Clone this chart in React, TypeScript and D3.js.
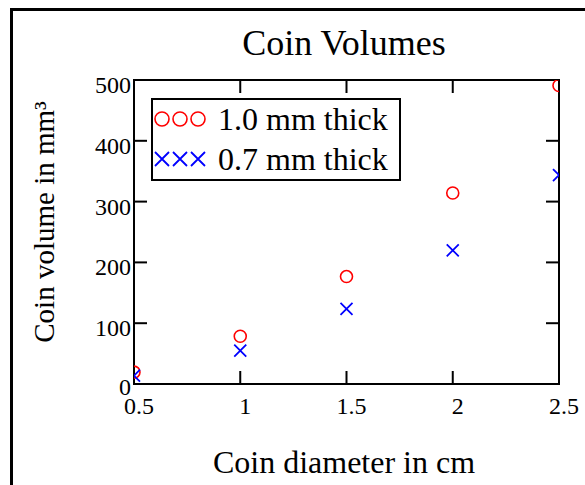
import React, { useEffect, useRef } from "react";
import * as d3 from "d3";

const diameters = [0.5, 1, 1.5, 2, 2.5];
const thick10 = [19.6, 78.5, 176.7, 314.2, 490.9];
const thick07 = [13.7, 55.0, 123.7, 219.9, 343.6];
const xTicks = [0.5, 1, 1.5, 2, 2.5];
const yTicks = [0, 100, 200, 300, 400, 500];
const seriesNames = ["1.0 mm thick", "0.7 mm thick"];

const W = 585;
const H = 485;
const FONT = "Liberation Serif, Times New Roman, serif";

const App = () => {
  const ref = useRef<SVGSVGElement>(null);

  useEffect(() => {
    if (!ref.current) return;
    const svg = d3.select(ref.current);
    svg.selectAll("*").remove();

    const m = { left: 134, right: 559, top: 80, bottom: 384 };
    const x = d3.scaleLinear().domain([0.5, 2.5]).range([m.left, m.right]);
    const y = d3.scaleLinear().domain([0, 500]).range([m.bottom, m.top]);

    // outer frame (runs off the right and bottom of the page)
    svg
      .append("rect")
      .attr("x", 11.5)
      .attr("y", 9.5)
      .attr("width", W + 20)
      .attr("height", H + 20)
      .attr("fill", "white")
      .attr("stroke", "black")
      .attr("stroke-width", 3);

    svg
      .append("defs")
      .append("clipPath")
      .attr("id", "plot-clip")
      .append("rect")
      .attr("x", m.left)
      .attr("y", m.top)
      .attr("width", m.right - m.left)
      .attr("height", m.bottom - m.top);

    // Title
    svg
      .append("text")
      .attr("x", 344)
      .attr("y", 55)
      .attr("text-anchor", "middle")
      .attr("font-size", 36)
      .text("Coin Volumes");

    // Axis titles
    svg
      .append("text")
      .attr("x", 344)
      .attr("y", 473)
      .attr("text-anchor", "middle")
      .attr("font-size", 32)
      .text("Coin diameter in cm");

    svg
      .append("text")
      .attr("transform", "translate(54, 222) rotate(-90)")
      .attr("text-anchor", "middle")
      .attr("font-size", 29)
      .text("Coin volume in mm³");

    // Ticks (inward, all four sides)
    const tl = 13;
    const ticks = svg.append("g").attr("stroke", "black").attr("stroke-width", 2);
    xTicks.forEach((t) => {
      ticks.append("line").attr("x1", x(t)).attr("x2", x(t)).attr("y1", m.bottom).attr("y2", m.bottom - tl);
      ticks.append("line").attr("x1", x(t)).attr("x2", x(t)).attr("y1", m.top).attr("y2", m.top + tl);
    });
    yTicks.forEach((t) => {
      ticks.append("line").attr("x1", m.left).attr("x2", m.left + tl).attr("y1", y(t)).attr("y2", y(t));
      ticks.append("line").attr("x1", m.right).attr("x2", m.right - tl).attr("y1", y(t)).attr("y2", y(t));
    });

    // Plot box
    svg
      .append("rect")
      .attr("x", m.left)
      .attr("y", m.top)
      .attr("width", m.right - m.left)
      .attr("height", m.bottom - m.top)
      .attr("fill", "none")
      .attr("stroke", "black")
      .attr("stroke-width", 2);

    // Tick labels
    svg
      .append("g")
      .selectAll("text")
      .data(xTicks)
      .enter()
      .append("text")
      .attr("x", (d) => x(d) + 5)
      .attr("y", 414)
      .attr("text-anchor", "middle")
      .attr("font-size", 24)
      .text((d) => String(d));

    svg
      .append("g")
      .selectAll("text")
      .data(yTicks)
      .enter()
      .append("text")
      .attr("x", 131)
      .attr("y", (d) => y(d) + (d === 0 ? 11 : 13))
      .attr("text-anchor", "end")
      .attr("font-size", 24)
      .text((d) => String(d));

    // Markers
    const crossPath = (s: number) => `M${-s},${-s}L${s},${s}M${-s},${s}L${s},${-s}`;
    const pts = svg.append("g").attr("clip-path", "url(#plot-clip)");
    pts
      .selectAll(".circ")
      .data(diameters.map((d, i) => [d, thick10[i]]))
      .enter()
      .append("circle")
      .attr("cx", (d) => x(d[0]))
      .attr("cy", (d) => y(d[1]))
      .attr("r", 6)
      .attr("fill", "none")
      .attr("stroke", "#ff0000")
      .attr("stroke-width", 1.6);
    pts
      .selectAll(".cross")
      .data(diameters.map((d, i) => [d, thick07[i]]))
      .enter()
      .append("path")
      .attr("transform", (d) => `translate(${x(d[0])},${y(d[1])})`)
      .attr("d", crossPath(6))
      .attr("fill", "none")
      .attr("stroke", "#0000ff")
      .attr("stroke-width", 1.8);

    // Legend
    const lg = svg.append("g");
    lg.append("rect")
      .attr("x", 152)
      .attr("y", 99)
      .attr("width", 248)
      .attr("height", 81)
      .attr("fill", "white")
      .attr("stroke", "black")
      .attr("stroke-width", 2);
    [162, 180, 198].forEach((cx) => {
      lg.append("circle")
        .attr("cx", cx)
        .attr("cy", 119)
        .attr("r", 7)
        .attr("fill", "none")
        .attr("stroke", "#ff0000")
        .attr("stroke-width", 1.6);
      lg.append("path")
        .attr("transform", `translate(${cx},159)`)
        .attr("d", crossPath(7))
        .attr("fill", "none")
        .attr("stroke", "#0000ff")
        .attr("stroke-width", 1.8);
    });
    seriesNames.forEach((name, i) => {
      lg.append("text")
        .attr("x", 218)
        .attr("y", 130 + i * 40)
        .attr("font-size", 32)
        .text(name);
    });
  }, []);

  return (
    <svg
      ref={ref}
      width={W}
      height={H}
      style={{ position: "absolute", left: 0, top: 0, fontFamily: FONT }}
    />
  );
};

export default App;
